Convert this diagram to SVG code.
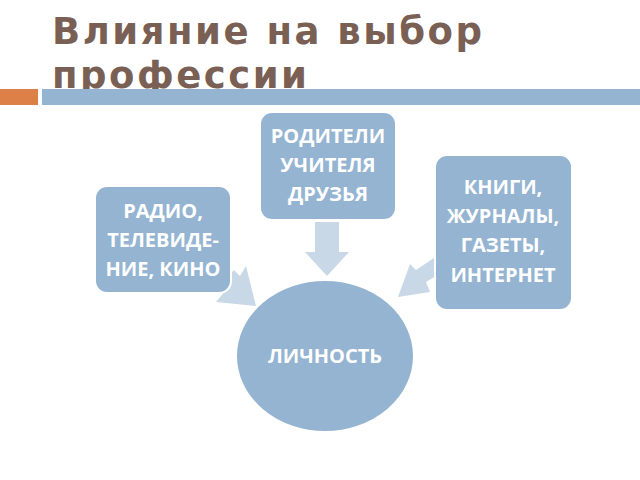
<svg xmlns="http://www.w3.org/2000/svg" width="640" height="480" viewBox="0 0 640 480">
<style>
.box{fill:#94b4d2;stroke:#fff;stroke-width:2}
.t{font-family:"Open Sans","DejaVu Sans",sans-serif;font-weight:bold;font-size:20px;fill:#fff;text-anchor:middle}
.ar{fill:#c9d8e6}
</style>
<rect width="640" height="480" fill="#fff"/>
<text x="52" y="44" font-family="'DejaVu Sans',sans-serif" font-weight="bold" font-size="37" fill="#7a5f55" letter-spacing="2.5">Влияние на выбор</text>
<text x="52" y="88" font-family="'DejaVu Sans',sans-serif" font-weight="bold" font-size="37" fill="#7a5f55" letter-spacing="2.5">профессии</text>
<rect x="0" y="89" width="38" height="16" fill="#dd8047"/>
<rect x="42" y="89" width="598" height="16" fill="#94b4d2"/>
<g id="connectors">
<polygon class="ar" points="315,222 339,222 339,252 349,252 327,276 305,252 315,252"/>
<polygon class="ar" points="220,284 234,270 240,276 246,266 256,306 216,302 226,290"/>
<polygon class="ar" points="440,254 446,270 426,282 430,292 398,297 410,264 416,270"/>
</g>
<g id="n1"><rect class="box" x="260" y="112" width="136" height="108" rx="12"/>
<text class="t" x="328" y="143">РОДИТЕЛИ</text><text class="t" x="328" y="172">УЧИТЕЛЯ</text><text class="t" x="328" y="201">ДРУЗЬЯ</text></g>
<g id="n2"><rect class="box" x="95" y="186" width="136" height="107" rx="12"/>
<text class="t" x="163" y="218">РАДИО,</text><text class="t" x="163" y="247">ТЕЛЕВИДЕ-</text><text class="t" x="163" y="276">НИЕ, КИНО</text></g>
<g id="n3"><rect class="box" x="435" y="155" width="137" height="155" rx="12"/>
<text class="t" x="503" y="194">КНИГИ,</text><text class="t" x="503" y="223">ЖУРНАЛЫ,</text><text class="t" x="503" y="252">ГАЗЕТЫ,</text><text class="t" x="503" y="282">ИНТЕРНЕТ</text></g>
<g id="n4"><ellipse class="box" cx="325" cy="356" rx="89" ry="76"/>
<text class="t" x="325" y="363">ЛИЧНОСТЬ</text></g>
</svg>
